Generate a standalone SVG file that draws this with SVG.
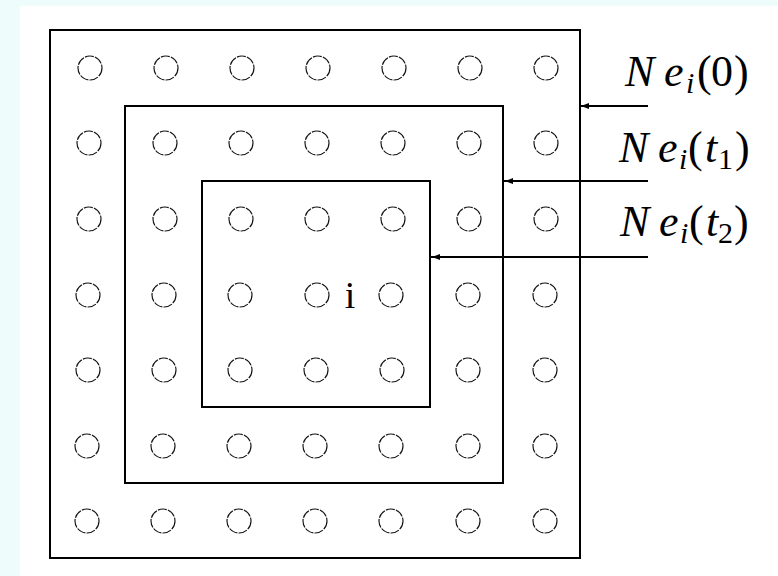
<svg xmlns="http://www.w3.org/2000/svg" width="778" height="576" viewBox="0 0 778 576">
<defs>
<style>
.bg{fill:#effcfc}
.frame{fill:none;stroke:#000;stroke-width:2}
.node{fill:none;stroke:#111;stroke-width:1.15;stroke-dasharray:9 1.2}
.conn{stroke:#000;stroke-width:2;fill:none}
.lab{font-family:"Liberation Serif","DejaVu Serif",serif;font-size:44px;fill:#000}
.it{font-style:italic}
.sub{font-size:30px}
.ctr{font-family:"Liberation Serif","DejaVu Serif",serif;font-size:38px;fill:#000}
</style>
<marker id="ah" viewBox="0 0 8 6" refX="0" refY="3" markerWidth="8" markerHeight="6" markerUnits="userSpaceOnUse" orient="auto-start-reverse">
<path d="M0,0 L8,3 L0,6 z" fill="#000"/>
</marker>
</defs>
<rect class="bg" x="0" y="0" width="778" height="576"/>
<rect x="20" y="6" width="758" height="570" fill="#fff"/>

<g id="regions">
<rect id="ne0" class="frame" x="50" y="30" width="530" height="528"/>
<rect id="net1" class="frame" x="125" y="106" width="378" height="377"/>
<rect id="net2" class="frame" x="202" y="181" width="228" height="226"/>
</g>

<g id="nodes">
<g id="row1"><circle class="node" cx="90" cy="68" r="12"/><circle class="node" cx="166" cy="68" r="12"/><circle class="node" cx="242" cy="68" r="12"/><circle class="node" cx="318" cy="68" r="12"/><circle class="node" cx="394" cy="68" r="12"/><circle class="node" cx="470" cy="68" r="12"/><circle class="node" cx="546" cy="68" r="12"/></g>
<g id="row2"><circle class="node" cx="89" cy="143" r="12"/><circle class="node" cx="165" cy="143" r="12"/><circle class="node" cx="241" cy="143" r="12"/><circle class="node" cx="317" cy="143" r="12"/><circle class="node" cx="393" cy="143" r="12"/><circle class="node" cx="469" cy="143" r="12"/><circle class="node" cx="546" cy="143" r="12"/></g>
<g id="row3"><circle class="node" cx="89" cy="219" r="12"/><circle class="node" cx="165" cy="219" r="12"/><circle class="node" cx="241" cy="219" r="12"/><circle class="node" cx="317" cy="219" r="12"/><circle class="node" cx="393" cy="219" r="12"/><circle class="node" cx="469" cy="219" r="12"/><circle class="node" cx="546" cy="219" r="12"/></g>
<g id="row4"><circle class="node" cx="88" cy="295" r="12"/><circle class="node" cx="164" cy="295" r="12"/><circle class="node" cx="240" cy="295" r="12"/><circle class="node" cx="317" cy="295" r="12"/><circle class="node" cx="391" cy="295" r="12"/><circle class="node" cx="468" cy="295" r="12"/><circle class="node" cx="545" cy="295" r="12"/></g>
<g id="row5"><circle class="node" cx="88" cy="370" r="12"/><circle class="node" cx="164" cy="370" r="12"/><circle class="node" cx="240" cy="370" r="12"/><circle class="node" cx="316" cy="370" r="12"/><circle class="node" cx="392" cy="370" r="12"/><circle class="node" cx="468" cy="370" r="12"/><circle class="node" cx="545" cy="370" r="12"/></g>
<g id="row6"><circle class="node" cx="87" cy="446" r="12"/><circle class="node" cx="163" cy="446" r="12"/><circle class="node" cx="239" cy="446" r="12"/><circle class="node" cx="315" cy="446" r="12"/><circle class="node" cx="391" cy="446" r="12"/><circle class="node" cx="468" cy="446" r="12"/><circle class="node" cx="545" cy="446" r="12"/></g>
<g id="row7"><circle class="node" cx="87" cy="521" r="12"/><circle class="node" cx="163" cy="521" r="12"/><circle class="node" cx="239" cy="521" r="12"/><circle class="node" cx="315" cy="521" r="12"/><circle class="node" cx="391" cy="521" r="12"/><circle class="node" cx="468" cy="521" r="12"/><circle class="node" cx="545" cy="521" r="12"/></g>
<text id="center" class="ctr" x="350" y="308" text-anchor="middle">i</text>
</g>

<g id="connectors">
<line class="conn" x1="648" y1="106" x2="589" y2="106" marker-end="url(#ah)"/>
<line class="conn" x1="648" y1="181" x2="513" y2="181" marker-end="url(#ah)"/>
<line class="conn" x1="648" y1="257" x2="440" y2="257" marker-end="url(#ah)"/>
<line class="conn" x1="589" y1="106" x2="580" y2="106" stroke-width="1.2"/>
<line class="conn" x1="513" y1="181" x2="503" y2="181" stroke-width="1.2"/>
<line class="conn" x1="440" y1="257" x2="430" y2="257" stroke-width="1.2"/>
</g>

<g id="labels">
<text class="lab" y="86"><tspan class="it" x="625">N</tspan><tspan class="it" x="664">e</tspan><tspan class="it sub" x="686" y="93">i</tspan><tspan x="697" y="86">(</tspan><tspan x="711">0</tspan><tspan x="734">)</tspan></text>
<text class="lab" y="162"><tspan class="it" x="619">N</tspan><tspan class="it" x="658">e</tspan><tspan class="it sub" x="679" y="169">i</tspan><tspan x="688" y="162">(</tspan><tspan class="it" x="705">t</tspan><tspan class="sub" x="718" y="169">1</tspan><tspan x="735" y="162">)</tspan></text>
<text class="lab" y="236"><tspan class="it" x="620">N</tspan><tspan class="it" x="659">e</tspan><tspan class="it sub" x="680" y="243">i</tspan><tspan x="689" y="236">(</tspan><tspan class="it" x="706">t</tspan><tspan class="sub" x="718" y="243">2</tspan><tspan x="734" y="236">)</tspan></text>
</g>
</svg>
